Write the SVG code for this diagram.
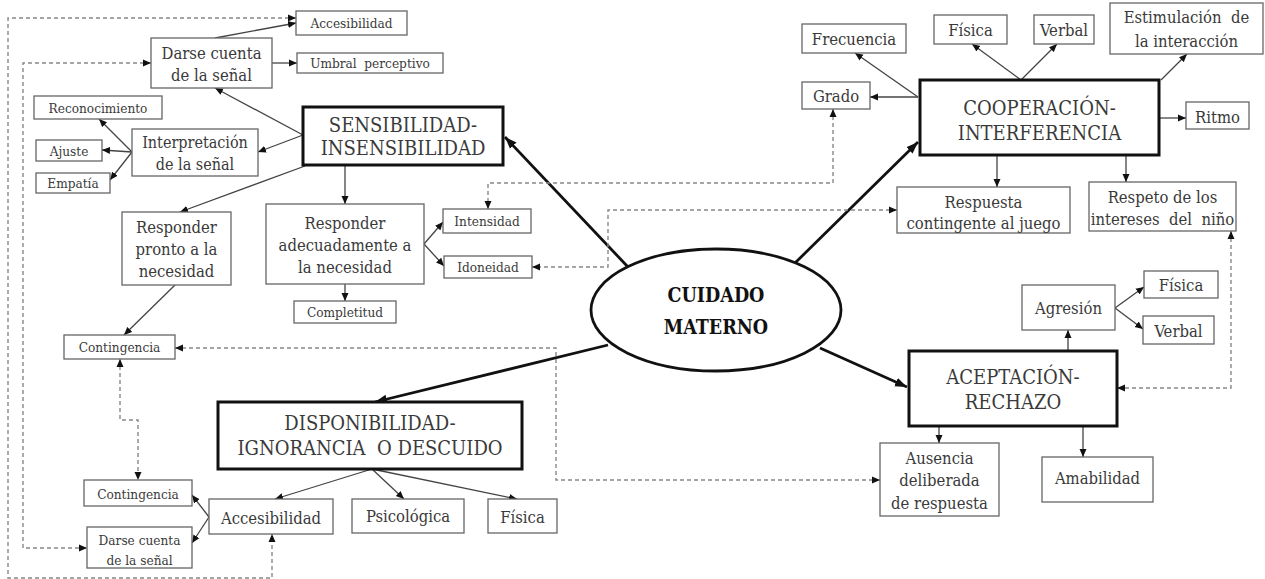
<svg xmlns="http://www.w3.org/2000/svg" width="1265" height="579" viewBox="0 0 1265 579">
<style>
.b{fill:#fff;stroke:#666;stroke-width:1.3}
.k{fill:#fff;stroke:#111;stroke-width:3}
text{fill:#3a3a3a;text-anchor:middle;font-family:"DejaVu Serif Condensed","DejaVu Serif",serif;font-stretch:condensed}
.s{font-size:13.5px}.m{font-size:16.5px}.r{font-size:16.5px}.i{font-size:16px}.l{font-size:20px}.x{font-size:20px}
.c{font-size:19.5px;font-weight:bold;fill:#111}
.t{stroke:#444;stroke-width:1.3;fill:none;marker-end:url(#a)}
.T{stroke:#111;stroke-width:2.8;fill:none;marker-end:url(#A)}
.d{stroke:#888;stroke-width:1.4;fill:none;stroke-dasharray:4 3;marker-end:url(#a);marker-start:url(#a)}
</style>
<defs>
<marker id="a" markerUnits="userSpaceOnUse" markerWidth="9" markerHeight="8" refX="8" refY="4" orient="auto-start-reverse"><path d="M0,0.5 L8,4 L0,7.5 z" fill="#111"/></marker>
<marker id="A" markerUnits="userSpaceOnUse" markerWidth="13" markerHeight="11" refX="12" refY="5.5" orient="auto"><path d="M0,1 L12,5.5 L0,10 z" fill="#111"/></marker>
</defs>
<rect width="1265" height="579" fill="#fff"/>
<g id="connectors">
<path class="t" d="M215,38 L296,23"/>
<path class="t" d="M272,63 L297,63"/>
<path class="t" d="M303,135 L215,88"/>
<path class="t" d="M303,135 L258,152"/>
<path class="t" d="M132,152 L99,119"/>
<path class="t" d="M132,152 L102,150"/>
<path class="t" d="M132,152 L110,180"/>
<path class="t" d="M305,166 L180,212"/>
<path class="t" d="M345,165 L345,204"/>
<path class="t" d="M424,244 L443,222"/>
<path class="t" d="M424,244 L444,266"/>
<path class="t" d="M345,284 L345,301"/>
<path class="t" d="M175,285 L124,335"/>
<path class="t" d="M918,97 L855,53"/>
<path class="t" d="M918,97 L870,97"/>
<path class="t" d="M1021,80 L972,44"/>
<path class="t" d="M1021,80 L1057,44"/>
<path class="t" d="M1161,80 L1187,54"/>
<path class="t" d="M1159,118 L1186,118"/>
<path class="t" d="M997,155 L997,187"/>
<path class="t" d="M1126,155 L1126,182"/>
<path class="t" d="M1068,351 L1068,330"/>
<path class="t" d="M1115,308 L1144,287"/>
<path class="t" d="M1115,308 L1143,329"/>
<path class="t" d="M939,426 L939,443"/>
<path class="t" d="M1083,426 L1083,457"/>
<path class="t" d="M372,469 L275,499"/>
<path class="t" d="M372,469 L404,499"/>
<path class="t" d="M372,469 L517,499"/>
<path class="t" d="M209,517 L192,495"/>
<path class="t" d="M209,517 L192,543"/>
<path class="T" d="M628,267 L505,137"/>
<path class="T" d="M795,263 L918,142"/>
<path class="T" d="M608,345 L375,402"/>
<path class="T" d="M820,348 L907,387"/>
<path class="d" d="M296,18 H8 V578 H272 V534"/>
<path class="d" d="M151,63 H23 V548 H87"/>
<path class="d" d="M833,109 V183 H488 V209"/>
<path class="d" d="M897,210 H608 V267 H532"/>
<path class="d" d="M175,348 H556 V480 H880"/>
<path class="d" d="M120,359 V420 H138 V480"/>
<path class="d" d="M1231,231 V388 H1117"/>
</g>
<g id="n-acc1"><rect class="b" x="296" y="11" width="111" height="24"/><text class="s" x="351.5" y="28">Accesibilidad</text></g>
<g id="n-darse1"><rect class="b" x="151" y="38" width="121" height="50"/><text class="m" x="211.5" y="59">Darse cuenta</text><text class="m" x="211.5" y="81">de la señal</text></g>
<g id="n-umbral"><rect class="b" x="297" y="53" width="146" height="20"/><text class="s" x="370" y="68" xml:space="preserve">Umbral  perceptivo</text></g>
<g id="n-recon"><rect class="b" x="34" y="96" width="128" height="23"/><text class="s" x="98" y="113">Reconocimiento</text></g>
<g id="n-interp"><rect class="b" x="132" y="129" width="126" height="47"/><text class="i" x="195" y="148">Interpretación</text><text class="i" x="195" y="170">de la señal</text></g>
<g id="n-ajuste"><rect class="b" x="36" y="140" width="66" height="21"/><text class="s" x="69" y="156">Ajuste</text></g>
<g id="n-empatia"><rect class="b" x="36" y="173" width="74" height="20"/><text class="s" x="73" y="188">Empatía</text></g>
<g id="n-sens"><rect class="k" x="303" y="107" width="200" height="58"/><text class="x" x="403" y="132">SENSIBILIDAD-</text><text class="x" x="403" y="155">INSENSIBILIDAD</text></g>
<g id="n-pronto"><rect class="b" x="122" y="212" width="109" height="73"/><text class="r" x="176.5" y="233">Responder</text><text class="r" x="176.5" y="255">pronto a la</text><text class="r" x="176.5" y="277">necesidad</text></g>
<g id="n-adec"><rect class="b" x="266" y="204" width="158" height="80"/><text class="r" x="345" y="229">Responder</text><text class="r" x="345" y="251">adecuadamente a</text><text class="r" x="345" y="273">la necesidad</text></g>
<g id="n-complet"><rect class="b" x="294" y="301" width="102" height="22"/><text class="s" x="345" y="317">Completitud</text></g>
<g id="n-intens"><rect class="b" x="443" y="209" width="88" height="24"/><text class="s" x="487" y="226">Intensidad</text></g>
<g id="n-idon"><rect class="b" x="444" y="256" width="88" height="22"/><text class="s" x="488" y="272">Idoneidad</text></g>
<g id="n-cont1"><rect class="b" x="64" y="335" width="111" height="24"/><text class="s" x="119.5" y="352">Contingencia</text></g>
<g id="n-cuidado"><ellipse cx="716" cy="310" rx="125" ry="61" fill="#fff" stroke="#111" stroke-width="2.8"/><text class="c" x="716" y="302">CUIDADO</text><text class="c" x="716" y="334">MATERNO</text></g>
<g id="n-frec"><rect class="b" x="802" y="24" width="104" height="29"/><text class="m" x="854" y="45">Frecuencia</text></g>
<g id="n-grado"><rect class="b" x="802" y="82" width="68" height="27"/><text class="m" x="836" y="102">Grado</text></g>
<g id="n-fis1"><rect class="b" x="934" y="15" width="73" height="29"/><text class="m" x="970.5" y="36">Física</text></g>
<g id="n-verb1"><rect class="b" x="1034" y="15" width="60" height="29"/><text class="m" x="1064" y="36">Verbal</text></g>
<g id="n-estim"><rect class="b" x="1110" y="3" width="153" height="51"/><text class="m" x="1186.5" y="23" xml:space="preserve">Estimulación  de</text><text class="m" x="1186.5" y="47">la interacción</text></g>
<g id="n-coop"><rect class="k" x="920" y="80" width="239" height="75"/><text class="l" x="1039.5" y="115">COOPERACIÓN-</text><text class="l" x="1039.5" y="140">INTERFERENCIA</text></g>
<g id="n-ritmo"><rect class="b" x="1186" y="102" width="63" height="27"/><text class="m" x="1217.5" y="123">Ritmo</text></g>
<g id="n-resp"><rect class="b" x="897" y="187" width="173" height="46"/><text class="m" x="983.5" y="208">Respuesta</text><text class="m" x="983.5" y="229">contingente al juego</text></g>
<g id="n-respeto"><rect class="b" x="1089" y="182" width="147" height="49"/><text class="m" x="1162.5" y="203">Respeto de los</text><text class="m" x="1162.5" y="225" xml:space="preserve">intereses  del  niño</text></g>
<g id="n-acep"><rect class="k" x="909" y="351" width="208" height="75"/><text class="l" x="1013" y="384">ACEPTACIÓN-</text><text class="l" x="1013" y="409">RECHAZO</text></g>
<g id="n-agres"><rect class="b" x="1022" y="285" width="93" height="45"/><text class="m" x="1068.5" y="314">Agresión</text></g>
<g id="n-fis2"><rect class="b" x="1144" y="271" width="74" height="27"/><text class="m" x="1181" y="291">Física</text></g>
<g id="n-verb2"><rect class="b" x="1143" y="316" width="71" height="28"/><text class="m" x="1178.5" y="337">Verbal</text></g>
<g id="n-ausen"><rect class="b" x="880" y="443" width="119" height="73"/><text class="m" x="939.5" y="464">Ausencia</text><text class="m" x="939.5" y="486">deliberada</text><text class="m" x="939.5" y="509">de respuesta</text></g>
<g id="n-amab"><rect class="b" x="1042" y="457" width="111" height="45"/><text class="m" x="1097.5" y="484">Amabilidad</text></g>
<g id="n-disp"><rect class="k" x="218" y="402" width="304" height="67"/><text class="l" x="370" y="430">DISPONIBILIDAD-</text><text class="l" x="370" y="455" xml:space="preserve">IGNORANCIA  O DESCUIDO</text></g>
<g id="n-cont2"><rect class="b" x="84" y="480" width="108" height="26"/><text class="s" x="138" y="499">Contingencia</text></g>
<g id="n-darse2"><rect class="b" x="87" y="527" width="105" height="41"/><text class="s" x="139.5" y="545">Darse cuenta</text><text class="s" x="139.5" y="565">de la señal</text></g>
<g id="n-acc2"><rect class="b" x="209" y="499" width="124" height="35"/><text class="m" x="271" y="524">Accesibilidad</text></g>
<g id="n-psico"><rect class="b" x="352" y="499" width="112" height="34"/><text class="m" x="408" y="522">Psicológica</text></g>
<g id="n-fis3"><rect class="b" x="488" y="499" width="69" height="34"/><text class="m" x="522.5" y="523">Física</text></g>
</svg>
